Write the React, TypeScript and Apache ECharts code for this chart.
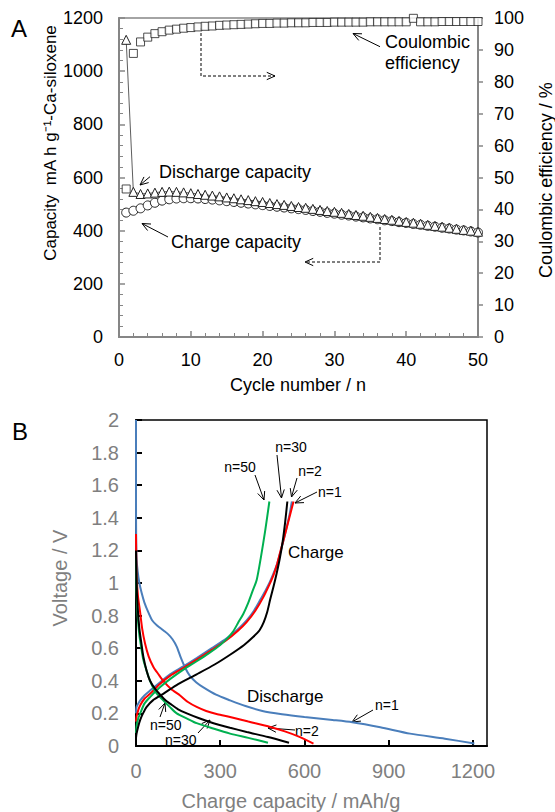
import React, { useEffect, useRef } from "react";
import * as echarts from "echarts";

// ---------- Panel A data ----------
const cycles = [
  1, 2, 3, 4, 5, 6, 7, 8, 9, 10, 11, 12, 13, 14, 15, 16, 17, 18, 19, 20, 21, 22, 23, 24, 25,
  26, 27, 28, 29, 30, 31, 32, 33, 34, 35, 36, 37, 38, 39, 40, 41, 42, 43, 44, 45, 46, 47, 48, 49, 50,
];
const coulombicEfficiency = [
  46.4, 88.9, 92.5, 94.0, 95.1, 95.7, 96.2, 96.5, 96.8, 97.0, 97.2, 97.4, 97.5, 97.7, 97.8, 97.9,
  98.0, 98.1, 98.2, 98.3, 98.3, 98.4, 98.4, 98.5, 98.5, 98.5, 98.6, 98.6, 98.6, 98.7, 98.7, 98.7,
  98.7, 98.7, 98.8, 98.8, 98.8, 98.8, 98.8, 98.8, 99.9, 98.8, 98.8, 98.8, 98.9, 98.9, 98.9, 98.9,
  98.9, 98.9,
];
const dischargeCapacity = [
  1118, 546, 538, 540, 543, 546, 547, 546, 544, 541, 538, 535, 532, 529, 525, 522, 518, 515, 511,
  508, 504, 500, 497, 493, 489, 486, 482, 478, 474, 471, 467, 463, 459, 456, 452, 448, 444, 441,
  437, 433, 430, 426, 422, 418, 415, 411, 407, 403, 400, 396,
];
const chargeCapacity = [
  468, 475, 484, 495, 505, 513, 518, 521, 522, 522, 521, 519, 517, 514, 511, 508, 505, 502, 499,
  496, 493, 490, 487, 484, 481, 478, 474, 471, 467, 464, 460, 457, 453, 450, 446, 443, 439, 436,
  432, 429, 425, 422, 418, 415, 411, 408, 404, 401, 397, 393,
];

// ---------- Panel B data (capacity mAh/g, voltage V) ----------
const n1Discharge = [
  [0, 2.0], [0, 1.5], [0.5, 1.3], [2, 1.15], [6, 1.07], [12, 1.0], [20, 0.94], [30, 0.88],
  [44, 0.82], [58, 0.77], [75, 0.74], [97, 0.71], [115, 0.685], [130, 0.655], [145, 0.61],
  [160, 0.54], [175, 0.48], [192, 0.43], [215, 0.39], [240, 0.36], [285, 0.315], [335, 0.28],
  [390, 0.245], [450, 0.215], [520, 0.195], [600, 0.178], [700, 0.16], [770, 0.146], [870, 0.115],
  [976, 0.076], [1100, 0.045], [1205, 0.015],
];
const n1Charge = [
  [0, 0.2], [2, 0.24], [8, 0.26], [15, 0.28], [30, 0.31], [50, 0.34], [85, 0.39], [121, 0.44],
  [170, 0.49], [216, 0.54], [270, 0.6], [323, 0.66], [365, 0.72], [394, 0.77], [420, 0.83],
  [442, 0.895], [460, 0.95], [475, 1.0], [490, 1.06], [503, 1.12], [516, 1.2], [528, 1.28],
  [539, 1.36], [548, 1.43], [555, 1.5],
];
const n2Discharge = [
  [0, 1.3], [1, 1.15], [2.4, 1.04], [7, 0.92], [14, 0.83], [22, 0.72], [32, 0.63], [45, 0.55],
  [62, 0.485], [80, 0.44], [97, 0.4], [125, 0.35], [157, 0.31], [185, 0.27], [216, 0.24],
  [250, 0.215], [290, 0.195], [335, 0.178], [400, 0.15], [478, 0.117], [530, 0.09], [580, 0.058],
  [632, 0.015],
];
const n2Charge = [
  [0, 0.15], [2, 0.18], [8, 0.22], [15, 0.25], [30, 0.29], [50, 0.32], [85, 0.38], [121, 0.43],
  [170, 0.48], [216, 0.53], [270, 0.59], [323, 0.65], [365, 0.71], [394, 0.76], [425, 0.83],
  [454, 0.915], [475, 0.99], [490, 1.05], [503, 1.12], [515, 1.2], [528, 1.28], [540, 1.36],
  [552, 1.44], [561, 1.5],
];
const n30Discharge = [
  [0, 1.2], [2, 1.0], [6, 0.85], [12, 0.72], [20, 0.62], [26, 0.55], [38, 0.46], [50, 0.4],
  [68, 0.35], [86, 0.315], [105, 0.28], [121, 0.26], [150, 0.225], [181, 0.2], [225, 0.17],
  [276, 0.14], [335, 0.112], [394, 0.086], [470, 0.055], [545, 0.02],
];
const n30Charge = [
  [0, 0.05], [2, 0.076], [8, 0.12], [15, 0.16], [25, 0.2], [38, 0.24], [60, 0.28], [97, 0.32],
  [150, 0.38], [216, 0.44], [280, 0.5], [335, 0.56], [385, 0.62], [418, 0.67], [440, 0.71],
  [455, 0.76], [467, 0.82], [478, 0.9], [490, 0.98], [501, 1.06], [512, 1.15], [522, 1.25],
  [531, 1.37], [539, 1.5],
];
const n50Discharge = [
  [0, 1.15], [2, 0.95], [6, 0.8], [12, 0.68], [20, 0.59], [26, 0.53], [38, 0.46], [50, 0.4],
  [70, 0.33], [97, 0.28], [120, 0.24], [145, 0.2], [180, 0.17], [216, 0.14], [275, 0.107],
  [335, 0.076], [400, 0.05], [470, 0.02],
];
const n50Charge = [
  [0, 0.08], [2, 0.12], [8, 0.17], [15, 0.2], [30, 0.26], [50, 0.3], [85, 0.36], [121, 0.41],
  [170, 0.47], [216, 0.52], [260, 0.57], [300, 0.62], [325, 0.66], [345, 0.7], [365, 0.76],
  [382, 0.81], [400, 0.88], [415, 0.95], [430, 1.02], [445, 1.16], [460, 1.32], [475, 1.5],
];

const FONT = '"Liberation Sans", Arial, sans-serif';
const GRAY_AXIS = "#868686";
const GRAY_TEXT = "#7f7f7f";

function arrowHead(x2: number, y2: number, ang: number) {
  const L = 9;
  const a = 0.42;
  return [
    [x2 - L * Math.cos(ang - a), y2 - L * Math.sin(ang - a)],
    [x2, y2],
    [x2 - L * Math.cos(ang + a), y2 - L * Math.sin(ang + a)],
  ];
}

function arrow(x1: number, y1: number, x2: number, y2: number) {
  const ang = Math.atan2(y2 - y1, x2 - x1);
  return [
    { type: "line", shape: { x1, y1, x2, y2 }, style: { stroke: "#000", lineWidth: 1 } },
    {
      type: "polyline",
      shape: { points: arrowHead(x2, y2, ang) },
      style: { stroke: "#000", lineWidth: 1, fill: null },
    },
  ];
}

function dashedElbow(points: number[][]) {
  const n = points.length;
  const [xa, ya] = points[n - 2];
  const [xb, yb] = points[n - 1];
  const ang = Math.atan2(yb - ya, xb - xa);
  return [
    {
      type: "polyline",
      shape: { points },
      style: { stroke: "#000", lineWidth: 1, lineDash: [3, 2], fill: null },
    },
    {
      type: "polyline",
      shape: { points: arrowHead(xb, yb, ang) },
      style: { stroke: "#000", lineWidth: 1, fill: null },
    },
  ];
}

function txt(
  text: string,
  x: number,
  y: number,
  size: number,
  align = "left",
  fill = "#000",
  rotation = 0
) {
  return {
    type: "text",
    x,
    y,
    rotation,
    style: { text, fill, font: `${size}px ${FONT}`, align, verticalAlign: "middle" },
  };
}

export default function App() {
  const ref = useRef<HTMLDivElement>(null);

  useEffect(() => {
    if (!ref.current) return;
    const chart = echarts.init(ref.current, null, { renderer: "svg" });

    const pair = (arr: number[]) => arr.map((v, i) => [cycles[i], v]);
    const curve = (name: string, data: number[][], color: string) => ({
      name,
      type: "line",
      xAxisIndex: 1,
      yAxisIndex: 2,
      data,
      smooth: 0.25,
      showSymbol: false,
      symbol: "none",
      lineStyle: { color, width: 2 },
    });
    const plain = (v: number) => String(v);

    const graphics: any[] = [
      // Panel A labels
      txt("A", 11, 28, 24),
      txt("Capacity  mA h g\u207B\u00B9-Ca-siloxene", 50, 143, 17, "center", "#000", Math.PI / 2),
      txt("Coulombic efficiency / %", 546, 180, 18, "center", "#000", Math.PI / 2),
      txt("Cycle number / n", 298, 385, 18, "center"),
      txt("Coulombic", 385, 42, 18),
      txt("efficiency", 385, 63, 18),
      ...arrow(380, 46.7, 353, 33.5),
      ...dashedElbow([[201, 28], [201, 76], [275, 76]]),
      txt("Discharge capacity", 159, 172, 18),
      ...arrow(150, 176.7, 140, 185),
      txt("Charge capacity", 171, 242, 18),
      ...arrow(168, 237, 142, 223.5),
      ...dashedElbow([[380, 227], [380, 262], [305, 262]]),
      // Panel B labels
      txt("B", 12, 431, 24),
      txt("Voltage / V", 60, 578, 20, "center", GRAY_TEXT, Math.PI / 2),
      txt("Charge capacity / mAh/g", 291, 801, 20, "center", GRAY_TEXT),
      txt("n=50", 240, 467, 14, "center"),
      ...arrow(255, 475, 264, 500),
      txt("n=30", 291, 447, 14, "center"),
      ...arrow(277, 455, 281.5, 498),
      txt("n=2", 310, 471, 14, "center"),
      ...arrow(297, 478, 291.5, 497),
      txt("n=1", 318, 492, 14),
      ...arrow(317, 492, 295, 503),
      txt("Charge", 288, 552, 17),
      txt("Discharge", 247, 696, 17),
      txt("n=1", 375, 705, 14),
      ...arrow(373, 710, 352, 722),
      txt("n=2", 295, 731, 14),
      ...arrow(295, 730, 268, 728),
      txt("n=50", 150, 725, 14),
      ...arrow(160, 717, 165, 703),
      txt("n=30", 165, 740, 14),
      ...arrow(198, 733, 210, 720),
    ];

    chart.setOption({
      animation: false,
      grid: [
        {
          left: 119,
          top: 18,
          width: 359,
          height: 319,
          show: true,
          borderColor: GRAY_AXIS,
          borderWidth: 1.5,
          backgroundColor: "transparent",
        },
        {
          left: 136,
          top: 420,
          width: 351,
          height: 326,
          show: true,
          borderColor: "#000",
          borderWidth: 1.5,
          backgroundColor: "transparent",
        },
      ],
      xAxis: [
        {
          type: "value",
          gridIndex: 0,
          min: 0,
          max: 50,
          interval: 10,
          axisLine: { lineStyle: { color: GRAY_AXIS, width: 2 } },
          axisTick: { inside: true, length: 6, lineStyle: { color: GRAY_AXIS, width: 1.5 } },
          minorTick: { show: true, splitNumber: 5, length: 4, lineStyle: { color: GRAY_AXIS, width: 1 } },
          axisLabel: { color: "#000", fontSize: 18, fontFamily: FONT, margin: 14, formatter: plain },
          splitLine: { show: false },
        },
        {
          type: "value",
          gridIndex: 1,
          min: 0,
          max: 1250,
          interval: 300,
          axisLine: { lineStyle: { color: "#000", width: 2 } },
          axisTick: { inside: true, length: 6, lineStyle: { color: "#000", width: 2 } },
          axisLabel: {
            color: GRAY_TEXT,
            fontSize: 20,
            fontFamily: FONT,
            margin: 15,
            showMaxLabel: false,
            formatter: plain,
          },
          splitLine: { show: false },
        },
      ],
      yAxis: [
        {
          type: "value",
          gridIndex: 0,
          min: 0,
          max: 1200,
          interval: 200,
          axisLine: { show: true, lineStyle: { color: GRAY_AXIS, width: 2 } },
          axisTick: { show: true, inside: true, length: 6, lineStyle: { color: GRAY_AXIS, width: 1.5 } },
          minorTick: { show: true, splitNumber: 5, length: 4, lineStyle: { color: GRAY_AXIS, width: 1 } },
          axisLabel: { color: "#000", fontSize: 18, fontFamily: FONT, margin: 16, formatter: plain },
          splitLine: { show: false },
        },
        {
          type: "value",
          gridIndex: 0,
          position: "right",
          min: 0,
          max: 100,
          interval: 10,
          axisLine: { show: true, lineStyle: { color: GRAY_AXIS, width: 2 } },
          axisTick: { show: true, inside: false, length: 5, lineStyle: { color: GRAY_AXIS, width: 1.5 } },
          axisLabel: { color: "#000", fontSize: 18, fontFamily: FONT, margin: 16, formatter: plain },
          splitLine: { show: false },
        },
        {
          type: "value",
          gridIndex: 1,
          min: 0,
          max: 2,
          interval: 0.2,
          axisLine: { show: true, lineStyle: { color: "#000", width: 2 } },
          axisTick: { show: true, inside: true, length: 6, lineStyle: { color: "#000", width: 2 } },
          axisLabel: {
            color: GRAY_TEXT,
            fontSize: 20,
            fontFamily: FONT,
            margin: 17,
            formatter: (v: number) => String(+v.toFixed(1)),
          },
          splitLine: { show: false },
        },
      ],
      series: [
        {
          name: "Coulombic efficiency",
          type: "scatter",
          xAxisIndex: 0,
          yAxisIndex: 1,
          data: pair(coulombicEfficiency),
          symbol: "rect",
          symbolSize: 8,
          itemStyle: { color: "#fff", borderColor: "#222", borderWidth: 1 },
        },
        {
          name: "Charge capacity",
          type: "line",
          xAxisIndex: 0,
          yAxisIndex: 0,
          data: pair(chargeCapacity),
          symbol: "circle",
          symbolSize: 9,
          showAllSymbol: true,
          lineStyle: { color: "#333", width: 0.8 },
          itemStyle: { color: "#fff", borderColor: "#222", borderWidth: 1 },
        },
        {
          name: "Discharge capacity",
          type: "line",
          xAxisIndex: 0,
          yAxisIndex: 0,
          data: pair(dischargeCapacity),
          symbol: "triangle",
          symbolSize: 9,
          showAllSymbol: true,
          lineStyle: { color: "#333", width: 0.8 },
          itemStyle: { color: "#fff", borderColor: "#222", borderWidth: 1 },
        },
        curve("n=1 discharge", n1Discharge, "#4a7ebb"),
        curve("n=1 charge", n1Charge, "#4a7ebb"),
        curve("n=2 discharge", n2Discharge, "#ff0000"),
        curve("n=2 charge", n2Charge, "#ff0000"),
        curve("n=50 discharge", n50Discharge, "#00b050"),
        curve("n=50 charge", n50Charge, "#00b050"),
        curve("n=30 discharge", n30Discharge, "#000000"),
        curve("n=30 charge", n30Charge, "#000000"),
      ],
      graphic: graphics,
    });

    return () => chart.dispose();
  }, []);

  return (
    <div
      ref={ref}
      style={{ position: "fixed", left: 0, top: 0, width: 555, height: 812, background: "#fff" }}
    />
  );
}
